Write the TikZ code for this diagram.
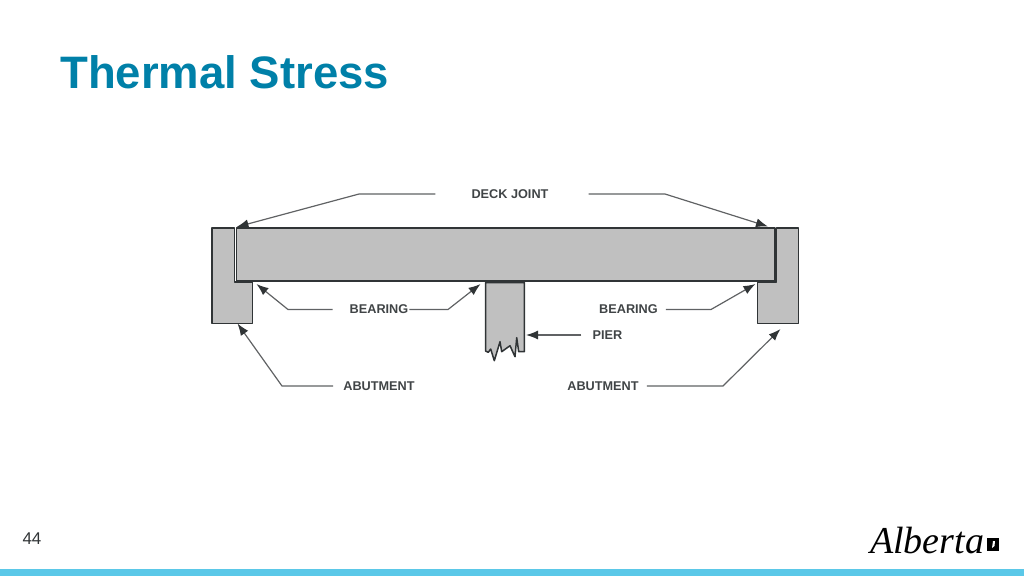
\documentclass[tikz,border=0pt]{standalone}
\usepackage{fontspec}
\setmainfont{Liberation Sans}
\newfontfamily\logofont{Liberation Serif}
\usetikzlibrary{positioning,arrows.meta}
\definecolor{abtitle}{RGB}{0,128,168}
\definecolor{abband}{RGB}{91,200,232}
\definecolor{abgrey}{RGB}{192,192,192}
\definecolor{abline}{RGB}{48,52,54}
\definecolor{abtext}{RGB}{64,68,70}
\definecolor{abwire}{RGB}{96,98,100}
\tikzset{
  partline/.style={draw=abline, fill=abgrey, line width=1.5pt, line join=round},
  partlabel/.style={font=\bfseries\fontsize{12.7}{14}\selectfont, text=abtext, inner sep=0pt},
  leader/.style={draw=abwire, line width=1.2pt, -{Latex[length=12pt,width=9pt,color=abline]}}
}
\begin{document}
\begin{tikzpicture}[x=1pt,y=-1pt]
\useasboundingbox (0,0) rectangle (1024,576);

% Title and footer
\node[font=\bfseries\fontsize{45.5}{50}\selectfont, text=abtitle, inner sep=0pt, anchor=west] (title) at (60,72) {Thermal Stress};
\node[font=\fontsize{17}{18}\selectfont, text=abline, inner sep=0pt] (pageno) at (32,538.5) {44};
\fill[abband] (0,569) rectangle (1024,576);

% Abutments
\draw[partline] (212,228) -- (234.3,228) -- (234.3,282) -- (252.3,282) -- (252.3,323.3) -- (212,323.3) -- cycle;
\draw[partline] (776.7,228) -- (798.3,228) -- (798.3,323.3) -- (757.7,323.3) -- (757.7,282) -- (776.7,282) -- cycle;

% Deck
\draw[partline] (236.7,228) rectangle (775,280.8);

% Pier
\draw[partline] (485.5,351) -- (485.5,282.5) -- (524.3,282.5) -- (524.3,351.7) -- (518.7,351.7) -- (516.7,337.7) -- (515,356.7) -- (510,345.7) -- (501.7,351.7) -- (500,341.7) -- (494.3,360.7) -- (490.7,349) -- (488.3,352.3) -- cycle;

% Labels
\node[partlabel] (joint) at (510,194) {DECK JOINT};
\node[partlabel] (bearingl) at (379,309.5) {BEARING};
\node[partlabel] (bearingr) at (628.5,309.5) {BEARING};
\node[partlabel] (pier) at (607.5,335) {PIER};
\node[partlabel] (abutl) at (379,386) {ABUTMENT};
\node[partlabel] (abutr) at (603,386) {ABUTMENT};

% Arrow targets
\coordinate (jointl) at (236.5,227);
\coordinate (jointr) at (768,226.5);
\coordinate (seatl) at (256.5,284);
\coordinate (seatm) at (480.5,284);
\coordinate (seatr) at (755.5,284);
\coordinate (pierside) at (526,335);
\coordinate (footl) at (237.5,323.5);
\coordinate (footr) at (780.5,329);

% Leaders
\draw[leader] ([xshift=-36pt]joint.west) -- (359,194) -- (jointl);
\draw[leader] ([xshift=40pt]joint.east) -- (665,194) -- (jointr);
\draw[leader] ([xshift=-17pt]bearingl.west) -- (288,309.5) -- (seatl);
\draw[leader] ([xshift=1pt]bearingl.east) -- (448,309.5) -- (seatm);
\draw[leader] ([xshift=8pt]bearingr.east) -- (711,309.5) -- (seatr);
\draw[leader] ([xshift=-11pt]pier.west) -- (pierside);
\draw[leader] ([xshift=-10pt]abutl.west) -- (282,386) -- (footl);
\draw[leader] ([xshift=8pt]abutr.east) -- (723,386) -- (footr);

% Logo
\node[font=\logofont\itshape\fontsize{38}{40}\selectfont, inner sep=0pt, anchor=base west, text=black] (logo) at (870,553) {Alberta};
\fill[black] (987,538) rectangle (999,551);
\fill[white] (993,541) -- (995,541) -- (994.5,546) -- (992,548) -- cycle;
\end{tikzpicture}
\end{document}
